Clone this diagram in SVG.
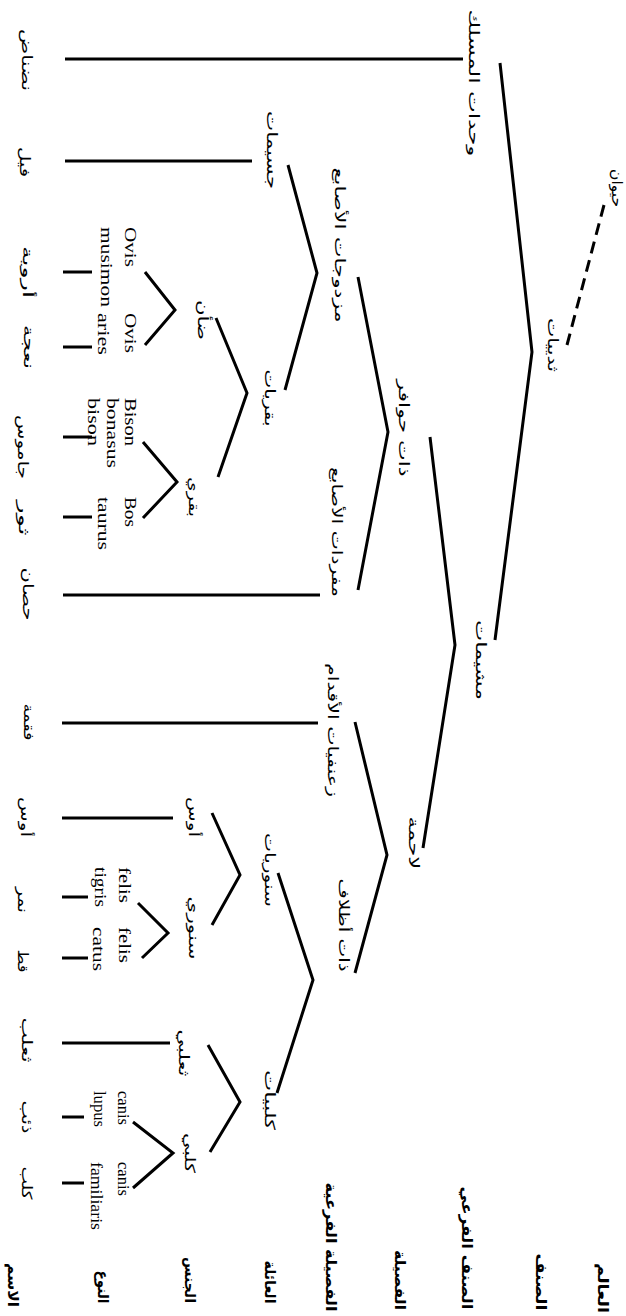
<svg xmlns="http://www.w3.org/2000/svg" width="626" height="1316" viewBox="0 0 626 1316">
<style>
.ar{font-family:"DejaVu Sans",sans-serif;font-size:14px;dominant-baseline:central;text-anchor:middle;fill:#000}
.lv{font-weight:bold;font-size:15px}
.la{font-family:"Liberation Serif","Times New Roman",serif;font-size:17px;fill:#000}
.ln{stroke:#000;stroke-width:3;fill:none;stroke-linejoin:miter}
.dash{stroke-dasharray:12 7}
</style>
<rect width="626" height="1316" fill="#fff"/>
<g id="connectors">
<path class="ln dash" d="M604,205 L567,345"/>
<path class="ln" d="M500,63 L532,352 L495,640"/>
<path class="ln" d="M65,59 L463,59"/>
<path class="ln" d="M430,437 L455,645 L423,848"/>
<path class="ln" d="M358,277 L388,432 L358,590"/>
<path class="ln" d="M288,165 L317,273 L285,390"/>
<path class="ln" d="M65,161 L252,161"/>
<path class="ln" d="M63,595 L320,595"/>
<path class="ln" d="M216,318 L247,393 L218,477"/>
<path class="ln" d="M145,272 L175,310 L145,345"/>
<path class="ln" d="M143,442 L177,482 L143,518"/>
<path class="ln" d="M63,272 L92,272 M63,347 L92,347 M63,437 L92,437 M63,517 L92,517"/>
<path class="ln" d="M355,722 L387,855 L355,973"/>
<path class="ln" d="M62,723 L318,723"/>
<path class="ln" d="M278,873 L313,980 L277,1093"/>
<path class="ln" d="M212,813 L240,875 L212,925"/>
<path class="ln" d="M62,818 L173,818"/>
<path class="ln" d="M138,903 L168,933 L142,958"/>
<path class="ln" d="M62,897 L88,897 M62,958 L88,958"/>
<path class="ln" d="M208,1045 L240,1102 L210,1152"/>
<path class="ln" d="M62,1043 L170,1043"/>
<path class="ln" d="M133,1122 L173,1153 L133,1188"/>
<path class="ln" d="M62,1117 L84,1117 M62,1183 L84,1183"/>
</g>
<g id="levels">
<text class="ar lv" x="603" y="1288" transform="rotate(90 603 1288)" textLength="50" lengthAdjust="spacingAndGlyphs">العالم</text>
<text class="ar lv" x="541" y="1282" transform="rotate(90 541 1282)" textLength="57" lengthAdjust="spacingAndGlyphs">الصنف</text>
<text class="ar lv" x="467" y="1248" transform="rotate(90 467 1248)" textLength="123" lengthAdjust="spacingAndGlyphs">الصنف الفرعي</text>
<text class="ar lv" x="400" y="1280" transform="rotate(90 400 1280)" textLength="60" lengthAdjust="spacingAndGlyphs">الفصيلة</text>
<text class="ar lv" x="331" y="1247" transform="rotate(90 331 1247)" textLength="129" lengthAdjust="spacingAndGlyphs">الفصيلة الفرعية</text>
<text class="ar lv" x="270" y="1282" transform="rotate(90 270 1282)" textLength="43" lengthAdjust="spacingAndGlyphs">العائلة</text>
<text class="ar lv" x="190" y="1280" transform="rotate(90 190 1280)" textLength="46" lengthAdjust="spacingAndGlyphs">الجنس</text>
<text class="ar lv" x="103" y="1287" transform="rotate(90 103 1287)" textLength="33" lengthAdjust="spacingAndGlyphs">النوع</text>
<text class="ar lv" x="13" y="1285" transform="rotate(90 13 1285)" textLength="44" lengthAdjust="spacingAndGlyphs">الاسم</text>
</g>
<g id="n-animal"><text class="ar" x="617" y="188" transform="rotate(90 617 188)" textLength="38" lengthAdjust="spacingAndGlyphs">حيوان</text></g>
<g id="n-mammals"><text class="ar" x="553" y="345" transform="rotate(90 553 345)" textLength="54" lengthAdjust="spacingAndGlyphs">ثدييات</text></g>
<g id="n-monotremes"><text class="ar" x="474" y="83" transform="rotate(90 474 83)" textLength="147" lengthAdjust="spacingAndGlyphs">وحدات المسلك</text></g>
<g id="n-placentals"><text class="ar" x="481" y="660" transform="rotate(90 481 660)" textLength="80" lengthAdjust="spacingAndGlyphs">مشيمات</text></g>
<g id="n-ungulates"><text class="ar" x="404" y="428" transform="rotate(90 404 428)" textLength="97" lengthAdjust="spacingAndGlyphs">ذات حوافر</text></g>
<g id="n-artiodactyla"><text class="ar" x="340" y="245" transform="rotate(90 340 245)" textLength="155" lengthAdjust="spacingAndGlyphs">مزدوجات الأصابع</text></g>
<g id="n-perissodactyla"><text class="ar" x="337" y="532" transform="rotate(90 337 532)" textLength="130" lengthAdjust="spacingAndGlyphs">مفردات الأصابع</text></g>
<g id="n-jsimat"><text class="ar" x="272" y="150" transform="rotate(90 272 150)" textLength="78" lengthAdjust="spacingAndGlyphs">جسيمات</text></g>
<g id="n-bovidae"><text class="ar" x="270" y="398" transform="rotate(90 270 398)" textLength="57" lengthAdjust="spacingAndGlyphs">بقريات</text></g>
<g id="n-ovis"><text class="ar" x="203" y="320" transform="rotate(90 203 320)" textLength="40" lengthAdjust="spacingAndGlyphs">ضأن</text></g>
<g id="n-bovini"><text class="ar" x="194" y="497" transform="rotate(90 194 497)" textLength="40" lengthAdjust="spacingAndGlyphs">بقري</text></g>
<g id="n-carnivora"><text class="ar" x="414" y="843" transform="rotate(90 414 843)" textLength="53" lengthAdjust="spacingAndGlyphs">لاحمة</text></g>
<g id="n-pinnipedia"><text class="ar" x="333" y="730" transform="rotate(90 333 730)" textLength="134" lengthAdjust="spacingAndGlyphs">زعنفيات الأقدام</text></g>
<g id="n-fissipedia"><text class="ar" x="344" y="925" transform="rotate(90 344 925)" textLength="93" lengthAdjust="spacingAndGlyphs">ذات أظلاف</text></g>
<g id="n-felidae"><text class="ar" x="270" y="870" transform="rotate(90 270 870)" textLength="74" lengthAdjust="spacingAndGlyphs">سنوريات</text></g>
<g id="n-lynx"><text class="ar" x="194" y="817" transform="rotate(90 194 817)" textLength="40" lengthAdjust="spacingAndGlyphs">أوس</text></g>
<g id="n-felis"><text class="ar" x="194" y="928" transform="rotate(90 194 928)" textLength="63" lengthAdjust="spacingAndGlyphs">سنوري</text></g>
<g id="n-canidae"><text class="ar" x="270" y="1100" transform="rotate(90 270 1100)" textLength="60" lengthAdjust="spacingAndGlyphs">كلبيات</text></g>
<g id="n-vulpes"><text class="ar" x="184" y="1053" transform="rotate(90 184 1053)" textLength="47" lengthAdjust="spacingAndGlyphs">ثعلبي</text></g>
<g id="n-canis"><text class="ar" x="190" y="1153" transform="rotate(90 190 1153)" textLength="40" lengthAdjust="spacingAndGlyphs">كلبي</text></g>
<g id="species">
<text class="la" x="125" y="227" transform="rotate(90 125 227)" textLength="40" lengthAdjust="spacingAndGlyphs">Ovis</text>
<text class="la" x="101" y="227" transform="rotate(90 101 227)" textLength="80" lengthAdjust="spacingAndGlyphs">musimon</text>
<text class="la" x="125" y="313" transform="rotate(90 125 313)" textLength="40" lengthAdjust="spacingAndGlyphs">Ovis</text>
<text class="la" x="98" y="313" transform="rotate(90 98 313)" textLength="42" lengthAdjust="spacingAndGlyphs">aries</text>
<text class="la" x="125" y="398" transform="rotate(90 125 398)" textLength="48" lengthAdjust="spacingAndGlyphs">Bison</text>
<text class="la" x="107" y="398" transform="rotate(90 107 398)" textLength="70" lengthAdjust="spacingAndGlyphs">bonasus</text>
<text class="la" x="88" y="398" transform="rotate(90 88 398)" textLength="48" lengthAdjust="spacingAndGlyphs">bison</text>
<text class="la" x="125" y="497" transform="rotate(90 125 497)" textLength="30" lengthAdjust="spacingAndGlyphs">Bos</text>
<text class="la" x="98" y="497" transform="rotate(90 98 497)" textLength="53" lengthAdjust="spacingAndGlyphs">taurus</text>
<text class="la" x="119" y="867" transform="rotate(90 119 867)" textLength="36" lengthAdjust="spacingAndGlyphs">felis</text>
<text class="la" x="95" y="867" transform="rotate(90 95 867)" textLength="40" lengthAdjust="spacingAndGlyphs">tigris</text>
<text class="la" x="119" y="927" transform="rotate(90 119 927)" textLength="36" lengthAdjust="spacingAndGlyphs">felis</text>
<text class="la" x="93" y="927" transform="rotate(90 93 927)" textLength="44" lengthAdjust="spacingAndGlyphs">catus</text>
<text class="la" x="118" y="1091" transform="rotate(90 118 1091)" textLength="34" lengthAdjust="spacingAndGlyphs">canis</text>
<text class="la" x="94" y="1091" transform="rotate(90 94 1091)" textLength="36" lengthAdjust="spacingAndGlyphs">lupus</text>
<text class="la" x="118" y="1162" transform="rotate(90 118 1162)" textLength="34" lengthAdjust="spacingAndGlyphs">canis</text>
<text class="la" x="91" y="1162" transform="rotate(90 91 1162)" textLength="68" lengthAdjust="spacingAndGlyphs">familiaris</text>
</g>
<g id="leaves">
<text class="ar" x="27" y="60" transform="rotate(90 27 60)" textLength="62" lengthAdjust="spacingAndGlyphs">نضناض</text>
<text class="ar" x="25" y="162" transform="rotate(90 25 162)" textLength="30" lengthAdjust="spacingAndGlyphs">فيل</text>
<text class="ar" x="28" y="272" transform="rotate(90 28 272)" textLength="52" lengthAdjust="spacingAndGlyphs">أروية</text>
<text class="ar" x="29" y="347" transform="rotate(90 29 347)" textLength="44" lengthAdjust="spacingAndGlyphs">نعجة</text>
<text class="ar" x="23" y="447" transform="rotate(90 23 447)" textLength="64" lengthAdjust="spacingAndGlyphs">جاموس</text>
<text class="ar" x="24" y="518" transform="rotate(90 24 518)" textLength="35" lengthAdjust="spacingAndGlyphs">ثور</text>
<text class="ar" x="28" y="594" transform="rotate(90 28 594)" textLength="53" lengthAdjust="spacingAndGlyphs">حصان</text>
<text class="ar" x="29" y="722" transform="rotate(90 29 722)" textLength="37" lengthAdjust="spacingAndGlyphs">فقمة</text>
<text class="ar" x="26" y="817" transform="rotate(90 26 817)" textLength="40" lengthAdjust="spacingAndGlyphs">أوس</text>
<text class="ar" x="23" y="900" transform="rotate(90 23 900)" textLength="26" lengthAdjust="spacingAndGlyphs">نمر</text>
<text class="ar" x="23" y="961" transform="rotate(90 23 961)" textLength="23" lengthAdjust="spacingAndGlyphs">قط</text>
<text class="ar" x="27" y="1040" transform="rotate(90 27 1040)" textLength="45" lengthAdjust="spacingAndGlyphs">ثعلب</text>
<text class="ar" x="27" y="1117" transform="rotate(90 27 1117)" textLength="33" lengthAdjust="spacingAndGlyphs">ذئب</text>
<text class="ar" x="27" y="1183" transform="rotate(90 27 1183)" textLength="33" lengthAdjust="spacingAndGlyphs">كلب</text>
</g>
</svg>
